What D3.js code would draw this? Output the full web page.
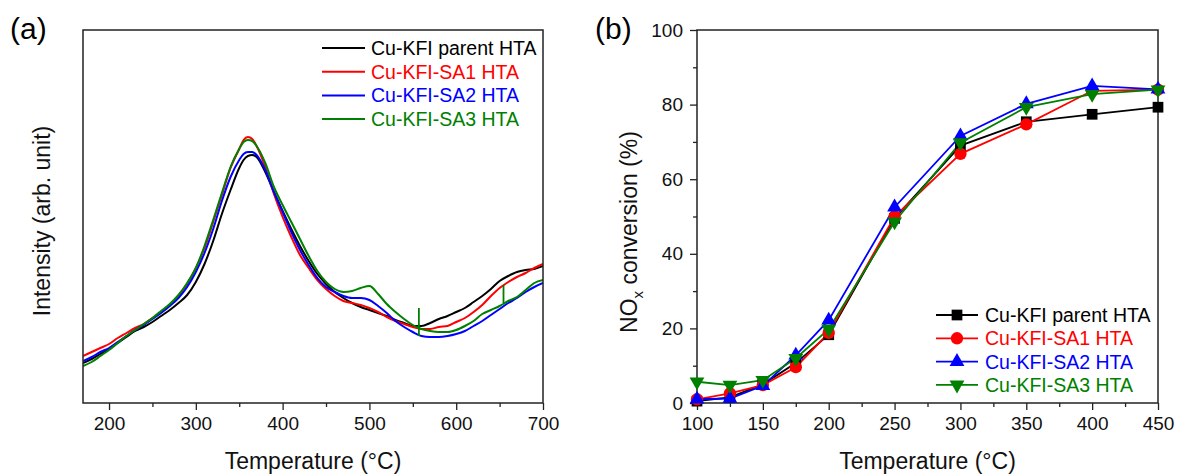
<!DOCTYPE html>
<html>
<head>
<meta charset="utf-8">
<script src="https://cdn.jsdelivr.net/npm/d3@7"></script>
<style>
  body { margin: 0; background: #fff; }
  svg { font-family: Arial, "Liberation Sans", sans-serif; }
</style>
</head>
<body>
<div id="chart"></div>
<script>
// series shared by both panels
var seriesNames = ["Cu-KFI parent HTA", "Cu-KFI-SA1 HTA", "Cu-KFI-SA2 HTA", "Cu-KFI-SA3 HTA"];
var seriesColors = ["#000000", "#ff0000", "#0000ff", "#008000"];

// (a) H2-TPR style curves, intensity in arb. unit
var tprTemps = [170, 180, 190, 200, 210, 220, 230, 240, 250, 260, 270, 280, 290, 300, 310, 320, 330, 340, 350, 355, 360, 365,
  370, 380, 390, 400, 410, 420, 430, 440, 450, 460, 470, 480, 490, 500, 510, 520, 530, 540, 550, 560, 570, 580, 590, 600,
  610, 620, 630, 640, 650, 660, 670, 680, 690, 700];
var tprParent = [40, 44, 49, 54, 60, 66, 72, 76, 81, 87, 93, 100, 108, 121, 139, 162, 189, 213, 235, 243, 247, 248,
  246, 231, 211, 192, 174, 157, 142, 129, 119, 111, 105, 100, 96, 93, 90, 87, 83, 80, 77, 77, 80, 84, 87, 91,
  95, 101, 107, 114, 122, 127, 131, 133, 134, 137];
var tprSA1 = [47, 51, 55, 59, 65, 70, 75, 79, 85, 91, 98, 107, 119, 135, 155, 181, 208, 235, 254, 263, 266, 264,
  257, 236, 209, 186, 166, 148, 135, 123, 114, 107, 102, 100, 98, 95, 91, 86, 82, 79, 76, 74, 74, 76, 77, 81,
  85, 91, 98, 107, 115, 121, 126, 130, 135, 139];
var tprSA2 = [42, 46, 51, 55, 61, 67, 73, 78, 84, 90, 97, 105, 116, 131, 150, 174, 202, 226, 243, 249, 251, 251,
  248, 233, 211, 191, 171, 153, 138, 125, 116, 111, 107, 105, 105, 103, 97, 90, 82, 76, 71, 67, 66, 66, 67, 69,
  72, 77, 82, 88, 94, 100, 105, 111, 116, 120];
var tprSA3 = [37, 41, 47, 53, 60, 67, 73, 79, 85, 92, 99, 108, 120, 135, 157, 183, 210, 236, 254, 261, 263, 262,
  257, 240, 216, 198, 181, 164, 147, 132, 121, 114, 111, 112, 115, 117, 109, 99, 91, 84, 78, 74, 72, 71, 71, 73,
  77, 82, 89, 93, 97, 102, 106, 113, 120, 123];
// short vertical artefacts on the SA3 trace
var sa3SpikeTemps = [557, 654.5];
var sa3SpikeLow = [67, 100];
var sa3SpikeHigh = [95, 118];

// (b) NOx conversion (%)
var scrTemps = [100, 125, 150, 175, 200, 250, 300, 350, 400, 450];
var scrParent = [0.5, 1.5, 5, 10.7, 18.3, 49.5, 69, 75.4, 77.4, 79.3];
var scrSA1 = [1, 2.6, 4.8, 9.6, 18.8, 50, 66.8, 74.7, 83.7, 84];
var scrSA2 = [1, 1.2, 4.6, 12.8, 22.2, 52.5, 71.6, 80.2, 85, 84.1];
var scrSA3 = [5.7, 4.8, 6.1, 12, 19.8, 48.6, 69.8, 79.3, 82.8, 84];

var tprData = [tprParent, tprSA1, tprSA2, tprSA3];
var scrData = [scrParent, scrSA1, scrSA2, scrSA3];
var symbols = [d3.symbolSquare, d3.symbolCircle, d3.symbolTriangle, d3.symbolTriangle];
var symSizes = [115, 120, 95, 95];
var symRotate = [0, 0, 0, 180];

var W = 1179, H = 475;
var svg = d3.select("#chart").append("svg").attr("width", W).attr("height", H);

var frameColor = "#222";

function drawFrame(l, r, t, b) {
  svg.append("rect")
    .attr("x", l).attr("y", t)
    .attr("width", r - l).attr("height", b - t)
    .attr("fill", "none")
    .attr("stroke", frameColor)
    .attr("stroke-width", 1.5);
}

function styleAxis(g) {
  g.select(".domain").remove();
  g.selectAll("line").attr("stroke", frameColor).attr("stroke-width", 1.3);
  g.selectAll("text").attr("fill", "#111").style("font-size", "19px");
}

// ---------- panel (a) ----------
var aL = 83, aR = 543, aT = 30, aB = 403;
var xa = d3.scaleLinear().domain([170, 700]).range([aL, aR]);
var ya = d3.scaleLinear().domain([0, 373]).range([aB, aT]);

svg.append("g")
  .attr("transform", "translate(0," + aB + ")")
  .call(d3.axisBottom(xa).tickValues(d3.range(250, 700, 100)).tickSize(4).tickFormat(""))
  .call(styleAxis);
svg.append("g")
  .attr("transform", "translate(0," + aB + ")")
  .call(d3.axisBottom(xa).tickValues(d3.range(200, 701, 100)).tickSize(7).tickPadding(7))
  .call(styleAxis);

var lineA = d3.line()
  .x(function (d) { return xa(d[0]); })
  .y(function (d) { return ya(d[1]); })
  .curve(d3.curveMonotoneX);

svg.append("defs").append("clipPath").attr("id", "clipA")
  .append("rect").attr("x", aL).attr("y", aT).attr("width", aR - aL).attr("height", aB - aT);

var gA = svg.append("g").attr("clip-path", "url(#clipA)");
tprData.forEach(function (vals, k) {
  var pts = tprTemps.map(function (t, i) { return [t, vals[i]]; });
  gA.append("path")
    .datum(pts)
    .attr("d", lineA)
    .attr("fill", "none")
    .attr("stroke", seriesColors[k])
    .attr("stroke-width", 2);
});
sa3SpikeTemps.forEach(function (t, i) {
  gA.append("line")
    .attr("x1", xa(t)).attr("x2", xa(t))
    .attr("y1", ya(sa3SpikeLow[i])).attr("y2", ya(sa3SpikeHigh[i]))
    .attr("stroke", seriesColors[3])
    .attr("stroke-width", 1.8);
});

drawFrame(aL, aR, aT, aB);

// legend (a)
seriesNames.forEach(function (name, k) {
  var yy = 48 + k * 23.7;
  svg.append("line")
    .attr("x1", 322).attr("x2", 365)
    .attr("y1", yy).attr("y2", yy)
    .attr("stroke", seriesColors[k]).attr("stroke-width", 2);
  svg.append("text")
    .attr("x", 371).attr("y", yy + 7)
    .attr("fill", seriesColors[k])
    .style("font-size", "19.5px")
    .text(name);
});

svg.append("text")
  .attr("x", 10).attr("y", 39)
  .style("font-size", "30px")
  .text("(a)");

svg.append("text")
  .attr("transform", "translate(50,221) rotate(-90)")
  .attr("text-anchor", "middle")
  .style("font-size", "23px")
  .attr("fill", "#111")
  .text("Intensity (arb. unit)");

svg.append("text")
  .attr("x", (aL + aR) / 2).attr("y", 469)
  .attr("text-anchor", "middle")
  .style("font-size", "23px")
  .attr("fill", "#111")
  .text("Temperature (\u00B0C)");

// ---------- panel (b) ----------
var bL = 697, bR = 1158, bT = 30, bB = 403;
var xb = d3.scaleLinear().domain([100, 450]).range([bL, bR]);
var yb = d3.scaleLinear().domain([0, 100]).range([bB, bT]);

svg.append("g")
  .attr("transform", "translate(0," + bB + ")")
  .call(d3.axisBottom(xb).tickValues(d3.range(125, 450, 50)).tickSize(4).tickFormat(""))
  .call(styleAxis);
svg.append("g")
  .attr("transform", "translate(0," + bB + ")")
  .call(d3.axisBottom(xb).tickValues(d3.range(100, 451, 50)).tickSize(7).tickPadding(7))
  .call(styleAxis);
svg.append("g")
  .attr("transform", "translate(" + bL + ",0)")
  .call(d3.axisLeft(yb).tickValues(d3.range(10, 100, 20)).tickSize(4).tickFormat(""))
  .call(styleAxis);
svg.append("g")
  .attr("transform", "translate(" + bL + ",0)")
  .call(d3.axisLeft(yb).tickValues(d3.range(0, 101, 20)).tickSize(7).tickPadding(7))
  .call(styleAxis);

var lineB = d3.line()
  .x(function (d) { return xb(d[0]); })
  .y(function (d) { return yb(d[1]); });

scrData.forEach(function (vals, k) {
  var pts = scrTemps.map(function (t, i) { return [t, vals[i]]; });
  svg.append("path")
    .datum(pts)
    .attr("d", lineB)
    .attr("fill", "none")
    .attr("stroke", seriesColors[k])
    .attr("stroke-width", 1.8);
});
drawFrame(bL, bR, bT, bB);

scrData.forEach(function (vals, k) {
  var sym = d3.symbol().type(symbols[k]).size(symSizes[k]);
  svg.append("g").selectAll("path")
    .data(vals)
    .enter()
    .append("path")
    .attr("d", sym)
    .attr("transform", function (d, i) {
      return "translate(" + xb(scrTemps[i]) + "," + yb(d) + ") rotate(" + symRotate[k] + ")";
    })
    .attr("fill", seriesColors[k]);
});

// legend (b)
seriesNames.forEach(function (name, k) {
  var yy = 315 + k * 23.3;
  svg.append("line")
    .attr("x1", 936).attr("x2", 978)
    .attr("y1", yy).attr("y2", yy)
    .attr("stroke", seriesColors[k]).attr("stroke-width", 1.8);
  svg.append("path")
    .attr("d", d3.symbol().type(symbols[k]).size(symSizes[k]))
    .attr("transform", "translate(957," + yy + ") rotate(" + symRotate[k] + ")")
    .attr("fill", seriesColors[k]);
  svg.append("text")
    .attr("x", 985).attr("y", yy + 7)
    .attr("fill", seriesColors[k])
    .style("font-size", "19.5px")
    .text(name);
});

svg.append("text")
  .attr("x", 595).attr("y", 39)
  .style("font-size", "30px")
  .text("(b)");

var yTitle = svg.append("text")
  .attr("transform", "translate(637,232) rotate(-90)")
  .attr("text-anchor", "middle")
  .style("font-size", "23px")
  .attr("fill", "#111");
yTitle.append("tspan").text("NO");
yTitle.append("tspan").attr("dy", 6).style("font-size", "15px").text("x");
yTitle.append("tspan").attr("dy", -6).text(" conversion (%)");

svg.append("text")
  .attr("x", (bL + bR) / 2).attr("y", 469)
  .attr("text-anchor", "middle")
  .style("font-size", "23px")
  .attr("fill", "#111")
  .text("Temperature (\u00B0C)");
</script>
</body>
</html>
